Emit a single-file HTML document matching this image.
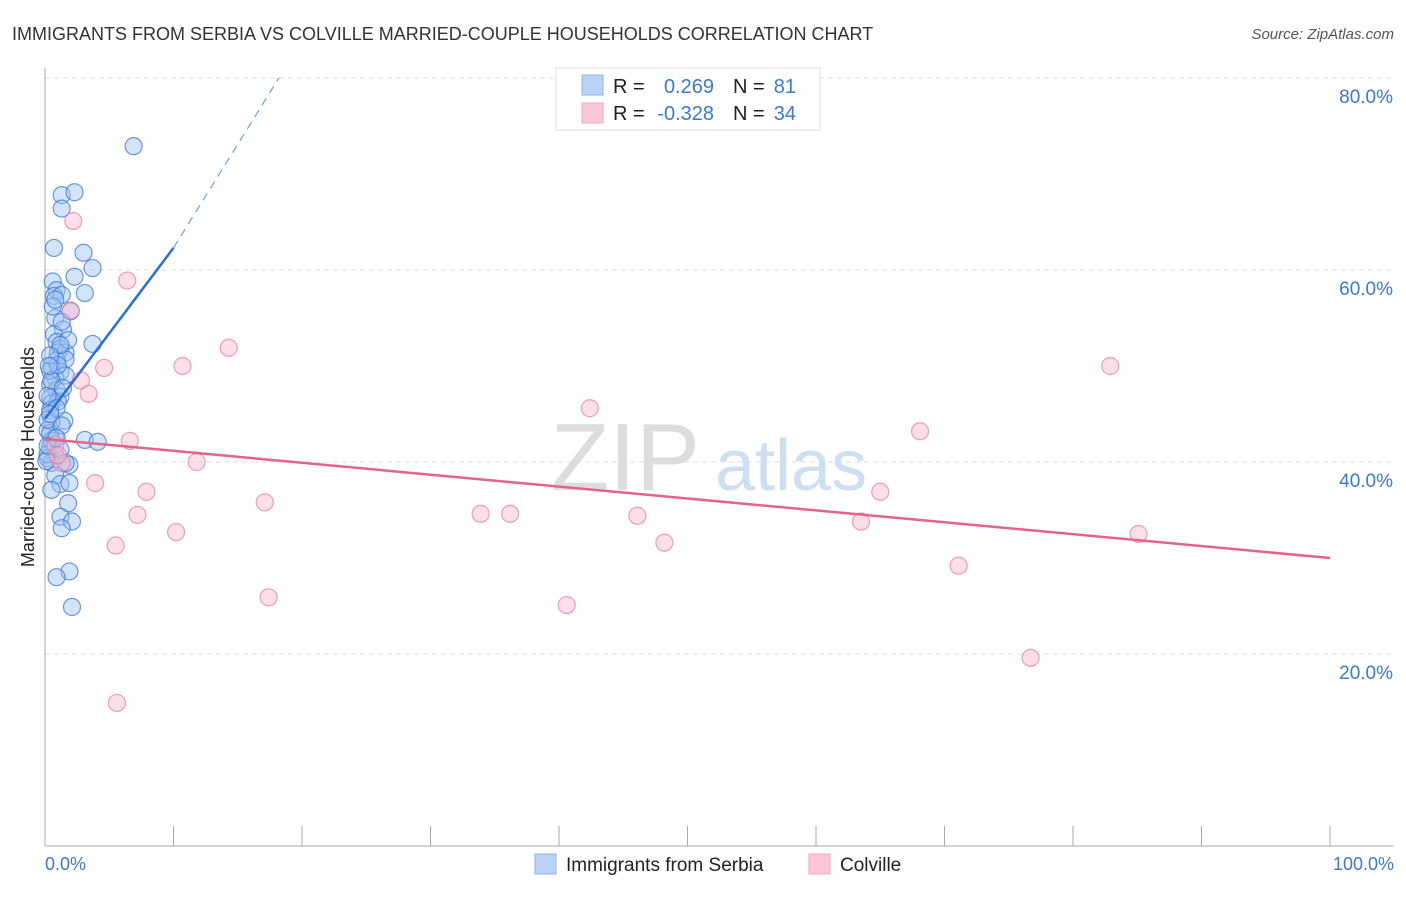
<!DOCTYPE html>
<html><head><meta charset="utf-8"><style>
body{margin:0;background:#fff;font-family:"Liberation Sans",sans-serif}
svg text{font-family:"Liberation Sans",sans-serif}
</style></head><body>
<svg id="chart" width="1406" height="892" xmlns="http://www.w3.org/2000/svg">
<text x="12" y="40" font-size="18" fill="#333">IMMIGRANTS FROM SERBIA VS COLVILLE MARRIED-COUPLE HOUSEHOLDS CORRELATION CHART</text>
<text x="1394" y="39" font-size="15" fill="#555" font-style="italic" text-anchor="end">Source: ZipAtlas.com</text>
<g id="grid"></g>
<text x="700" y="490" font-size="96" fill="#ddd" text-anchor="end" font-family="Liberation Serif">ZIP</text>
<text x="715" y="490" font-size="72" fill="#cfdff3">atlas</text>
<line x1="45" y1="68" x2="45" y2="846" stroke="#aaa"/>
<line x1="45" y1="846" x2="1394" y2="846" stroke="#aaa"/>
<text transform="translate(34,457) rotate(-90)" font-size="18" fill="#222" text-anchor="middle">Married-couple Households</text>
<text x="45" y="870" font-size="18" fill="#3b78d8">0.0%</text>
<text x="1394" y="870" font-size="18" fill="#3b78d8" text-anchor="end">100.0%</text>
<g id="points"></g>
<g id="lines"></g>
<g>
<rect x="556" y="68" width="264" height="62" fill="#fff" stroke="#ddd"/>
<rect x="582" y="75" width="21" height="20" fill="#b8d3f5" stroke="#8fb5ea"/>
<rect x="582" y="103" width="21" height="20" fill="#fcc8d7" stroke="#f2a7bd"/>
<text x="613" y="93" font-size="20" fill="#222">R = </text><text x="714" y="93" font-size="20" fill="#3b78d8" text-anchor="end">0.269</text>
<text x="733" y="93" font-size="20" fill="#222">N = </text><text x="796" y="93" font-size="20" fill="#3b78d8" text-anchor="end">81</text>
<text x="613" y="120" font-size="20" fill="#222">R = </text><text x="714" y="120" font-size="20" fill="#3b78d8" text-anchor="end">-0.328</text>
<text x="733" y="120" font-size="20" fill="#222">N = </text><text x="796" y="120" font-size="20" fill="#3b78d8" text-anchor="end">34</text>
</g>
<g>
<rect x="535" y="854" width="21" height="20" fill="#b8d3f5" stroke="#8fb5ea"/>
<text x="566" y="871" font-size="19" fill="#222">Immigrants from Serbia</text>
<rect x="809" y="854" width="21" height="20" fill="#fcc8d7" stroke="#f2a7bd"/>
<text x="840" y="871" font-size="19" fill="#222">Colville</text>
</g>
</svg>
<script>
const yTicks=[20,40,60,80];
const blueX=[6.9,1.3,2.3,1.3,0.7,3.0,3.7,2.3,0.6,3.1,0.9,0.7,1.3,2.0,0.8,1.4,0.7,0.9,1.2,1.0,3.7,1.6,0.9,1.6,0.5,1.2,0.8,0.4,0.9,0.4,1.2,0.5,1.0,0.4,1.5,0.5,0.2,0.8,0.5,3.1,4.1,0.4,0.8,0.2,0.5,1.9,0.8,1.2,1.9,0.5,1.8,1.2,2.1,1.3,1.9,0.9,2.1,0.2,1.2,0.4,0.2,1.6,0.4,1.8,0.6,0.2,0.9,1.3,0.1,0.5,1.0,1.2,0.4,1.3,0.8,0.2,0.9,1.6,0.4,1.4,0.3];
const blueY=[72.9,67.8,68.1,66.4,62.3,61.8,60.2,59.3,58.8,57.6,57.9,57.3,57.4,55.7,55.0,53.8,53.3,52.5,51.8,51.4,52.3,51.4,50.6,50.7,50.0,49.4,48.8,48.1,47.5,46.7,46.8,46.1,46.3,45.4,44.3,44.2,43.3,42.6,42.2,42.3,42.1,41.6,40.7,40.4,39.9,39.7,38.6,37.7,37.8,37.1,35.7,34.3,33.8,33.1,28.6,28.0,24.9,40.8,41.3,43.0,44.4,49.0,49.5,52.7,56.2,46.9,45.6,43.8,40.1,48.5,50.1,52.2,51.1,54.6,56.9,41.7,42.5,39.9,45.0,47.7,50.0];
const pinkX=[2.2,6.4,2.0,14.3,10.7,4.6,2.8,3.4,42.4,6.6,11.8,1.3,3.9,7.9,17.1,7.2,10.2,5.5,17.4,33.9,36.2,46.1,48.2,40.6,5.6,82.9,68.1,65.0,63.5,71.1,76.7,85.1,0.8,1.0];
const pinkY=[65.1,58.9,55.8,51.9,50.0,49.8,48.5,47.1,45.6,42.2,40.0,39.9,37.8,36.9,35.8,34.5,32.7,31.3,25.9,34.6,34.6,34.4,31.6,25.1,14.9,50.0,43.2,36.9,33.8,29.2,19.6,32.5,41.8,40.7];
const blueLine=[0,44.5,10,62.3];const blueDash=[10,62.3,18.2,80];
const pinkLine=[0,42.4,100,30.0];
const X=v=>45+v*12.85, Y=v=>846-v*9.6;
const NS='http://www.w3.org/2000/svg';
const grid=document.getElementById('grid');
yTicks.forEach(t=>{
 const l=document.createElementNS(NS,'line');
 l.setAttribute('x1',45);l.setAttribute('x2',1394);l.setAttribute('y1',Y(t));l.setAttribute('y2',Y(t));
 l.setAttribute('stroke','#ddd');l.setAttribute('stroke-dasharray','5,4');
 
 
 grid.appendChild(l);
 const tx=document.createElementNS(NS,'text');
 tx.setAttribute('x',1393);tx.setAttribute('y',Y(t)+25);tx.setAttribute('text-anchor','end');
 tx.setAttribute('font-size','19');tx.setAttribute('fill','#3b78d8');tx.textContent=t.toFixed(1)+'%';
 
 
 grid.appendChild(tx);
});
for(let i=1;i<=10;i++){
 const l=document.createElementNS(NS,'line');
 const x=X(i*10);
 l.setAttribute('x1',x);l.setAttribute('x2',x);l.setAttribute('y1',826);l.setAttribute('y2',846);l.setAttribute('stroke','#aaa');
 
 
 grid.appendChild(l);
}
const pts=document.getElementById('points');
function dots(xs,ys,fill,stroke,name){
 xs.forEach((v,i)=>{
  const c=document.createElementNS(NS,'circle');
  c.setAttribute('cx',X(v));c.setAttribute('cy',Y(ys[i]));c.setAttribute('r',8.5);
  c.setAttribute('fill',fill);c.setAttribute('stroke',stroke);c.setAttribute('stroke-width','1.2');
  
  
  pts.appendChild(c);
 });
}
dots(blueX,blueY,'rgba(160,196,240,0.45)','rgba(59,120,216,0.75)','point-serbia');
dots(pinkX,pinkY,'rgba(250,185,205,0.45)','rgba(232,120,160,0.7)','point-colville');
const lines=document.getElementById('lines');
function ln(a,color,w,dash,name){
 const l=document.createElementNS(NS,'line');
 l.setAttribute('x1',X(a[0]));l.setAttribute('y1',Y(a[1]));l.setAttribute('x2',X(a[2]));l.setAttribute('y2',Y(a[3]));
 l.setAttribute('stroke',color);l.setAttribute('stroke-width',w);if(dash)l.setAttribute('stroke-dasharray',dash);
 
 
 lines.appendChild(l);
}
ln(blueLine,'#2a6fd6',2.5,null,'trend-serbia');
ln(blueDash,'#6a9ee6',1.2,'8,6','trend-serbia-extension');
ln(pinkLine,'#e4628f',2.5,null,'trend-colville');
</script>
</body></html>
